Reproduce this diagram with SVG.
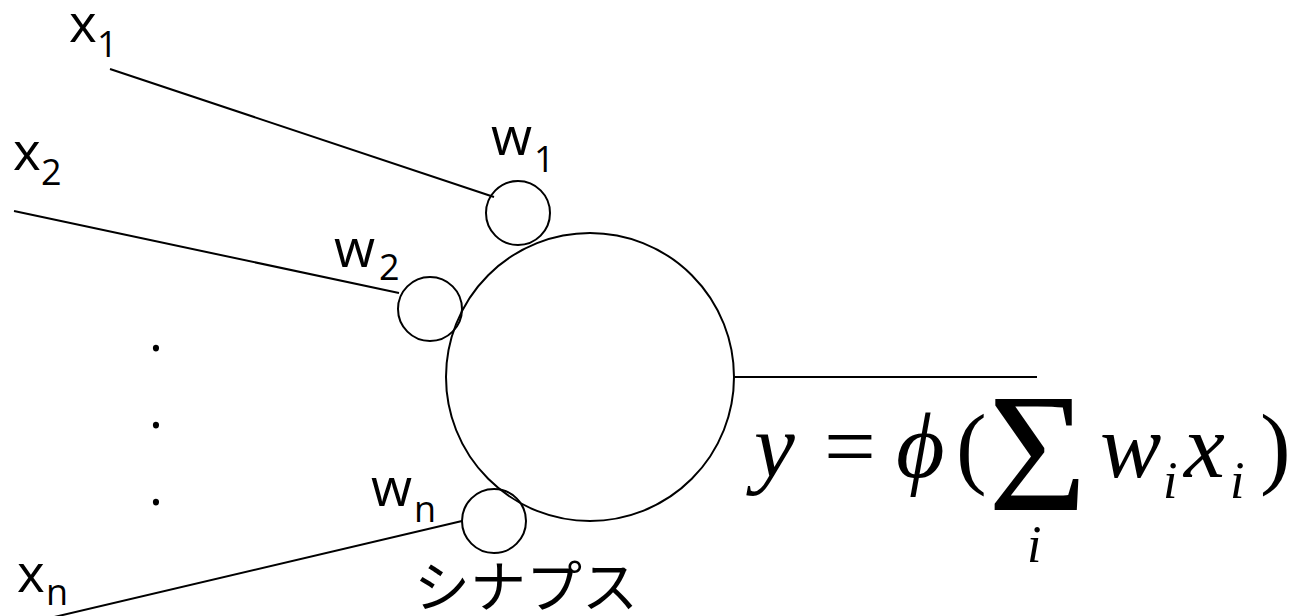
<svg xmlns="http://www.w3.org/2000/svg" width="1291" height="616" viewBox="0 0 1291 616">
<style>
.lbl{font-size:53px;fill:#000}
.sub{font-size:36px}
.ln{stroke:#000;stroke-width:2;fill:none}
.cir{stroke:#000;stroke-width:2;fill:none}
.math{fill:#000}
.it{font-style:italic}
.jp{font-size:56px;fill:#000}
</style>
<rect width="1291" height="616" fill="#fff"/>
<g id="connectors">
<line class="ln" x1="110" y1="69" x2="494" y2="197"/>
<line class="ln" x1="14" y1="211" x2="399" y2="293"/>
<line class="ln" x1="50" y1="618" x2="462" y2="521"/>
<line class="ln" x1="734" y1="377" x2="1037" y2="377"/>
</g>
<g id="neuron"><circle class="cir" cx="590" cy="377" r="144"/></g>
<g id="synapse1"><circle class="cir" cx="518" cy="213" r="32"/></g>
<g id="synapse2"><circle class="cir" cx="430" cy="309" r="32"/></g>
<g id="synapseN"><circle class="cir" cx="494" cy="521" r="32"/></g>
<g font-family="Open Sans, Liberation Sans, sans-serif">
<g id="input1"><text class="lbl"><tspan x="69" y="42">x</tspan><tspan class="sub" x="97" y="57">1</tspan></text></g>
<g id="input2"><text class="lbl"><tspan x="13" y="170">x</tspan><tspan class="sub" x="41" y="185">2</tspan></text></g>
<g id="inputN"><text class="lbl"><tspan x="17" y="592">x</tspan><tspan class="sub" x="46" y="605">n</tspan></text></g>
<g id="weight1"><text class="lbl"><tspan x="491" y="155">w</tspan><tspan class="sub" x="534" y="172">1</tspan></text></g>
<g id="weight2"><text class="lbl"><tspan x="334" y="267">w</tspan><tspan class="sub" x="379" y="280">2</tspan></text></g>
<g id="weightN"><text class="lbl"><tspan x="371" y="506">w</tspan><tspan class="sub" x="414" y="522">n</tspan></text></g>
<g id="dots">
<text class="lbl" x="149" y="351">.</text>
<text class="lbl" x="149" y="428">.</text>
<text class="lbl" x="149" y="505">.</text>
</g>
</g>
<g id="synapse-label" font-family="Noto Sans CJK JP, sans-serif"><text class="jp" x="414" y="607">シナプス</text></g>
<g id="formula" font-family="Liberation Serif">
<text class="math it" x="754" y="477" font-size="92">y</text>
<text class="math" x="824" y="477" font-size="92">=</text>
<text class="math it" x="896" y="477" font-size="94">ϕ</text>
<text class="math" x="956" y="477" font-size="92">(</text>
<text class="math" x="988" y="510" font-size="170">Σ</text>
<text class="math it" x="1027" y="562" font-size="52">i</text>
<text class="math it" x="1100" y="477" font-size="92">w</text>
<text class="math it" x="1163" y="498" font-size="52">i</text>
<text class="math it" x="1184" y="477" font-size="92">x</text>
<text class="math it" x="1230" y="498" font-size="52">i</text>
<text class="math" x="1260" y="477" font-size="92">)</text>
</g>
</svg>
